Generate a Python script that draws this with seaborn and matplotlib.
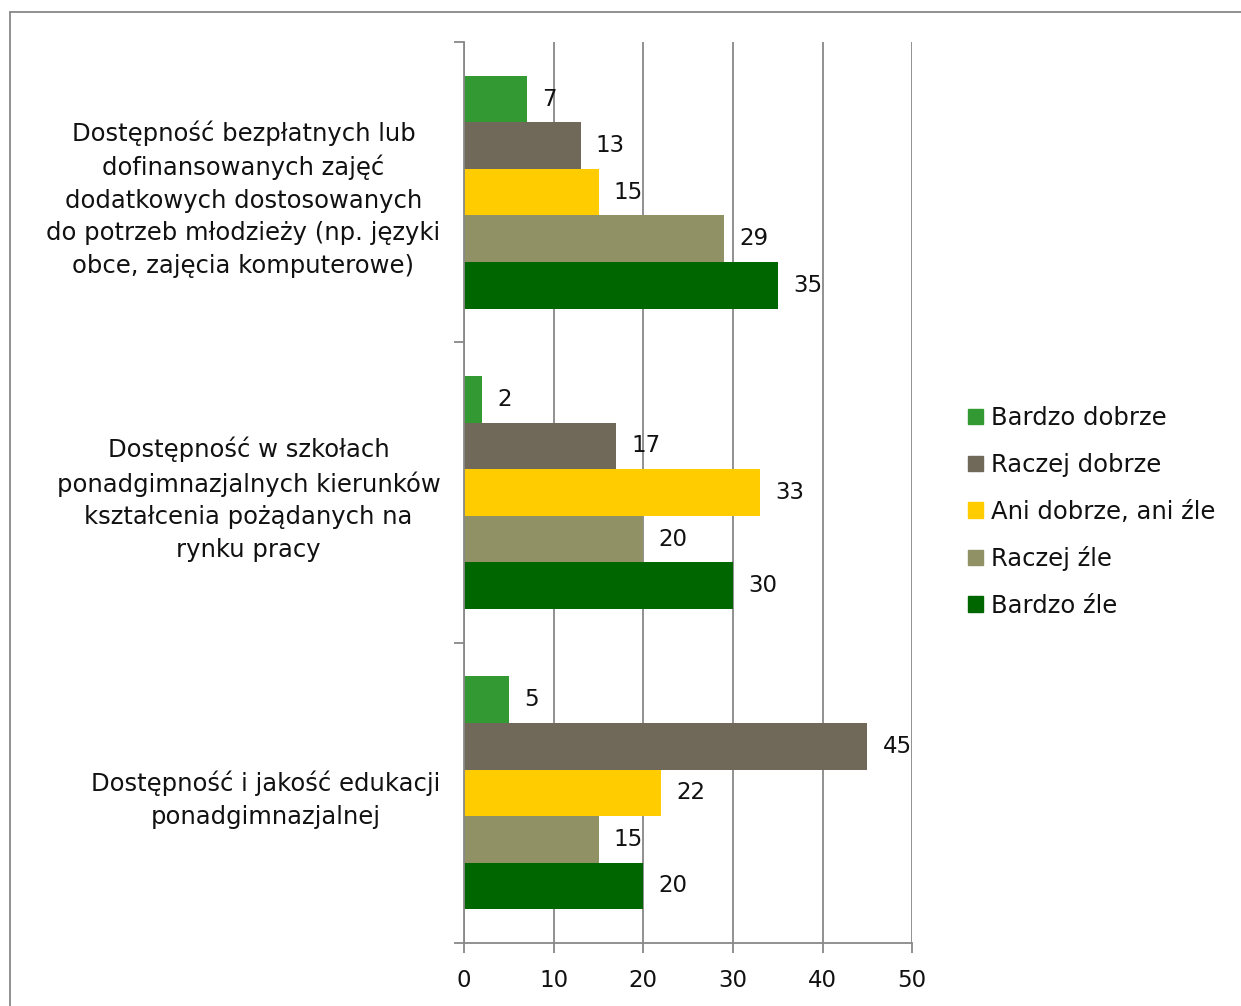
import pandas as pd
import matplotlib.pyplot as plt
import seaborn as sns
from matplotlib.lines import Line2D

# Data
categories = [
    "Dostępność bezpłatnych lub\ndofinansowanych zajęć\ndodatkowych dostosowanych\ndo potrzeb młodzieży (np. języki\nobce, zajęcia komputerowe)",
    "Dostępność w szkołach\nponadgimnazjalnych kierunków\nkształcenia pożądanych na\nrynku pracy",
    "Dostępność i jakość edukacji\nponadgimnazjalnej",
]
answers = ["Bardzo dobrze", "Raczej dobrze", "Ani dobrze, ani źle", "Raczej źle", "Bardzo źle"]
bardzo_dobrze = [7, 2, 5]
raczej_dobrze = [13, 17, 45]
ani_ani = [15, 33, 22]
raczej_zle = [29, 20, 15]
bardzo_zle = [35, 30, 20]
colors = ["#339933", "#706858", "#FFCC00", "#919166", "#006600"]

series = [bardzo_dobrze, raczej_dobrze, ani_ani, raczej_zle, bardzo_zle]
rows = []
for ans, vals in zip(answers, series):
    for cat, v in zip(categories, vals):
        rows.append({"kategoria": cat, "odpowiedz": ans, "wartosc": v})
df = pd.DataFrame(rows)

sns.set_style("white")
plt.rcParams['font.family'] = ['DejaVu Sans']
plt.rcParams['text.color'] = '#111111'
plt.rcParams['xtick.color'] = '#111111'
plt.rcParams['ytick.color'] = '#111111'

fig = plt.figure(figsize=(12.41, 10.06), dpi=100)
ax = fig.add_axes([0.374, 0.0626, 0.361, 0.8956])

sns.barplot(data=df, y="kategoria", x="wartosc", hue="odpowiedz",
            order=categories, hue_order=answers, palette=colors,
            orient="h", width=0.775, linewidth=0, saturation=1, ax=ax)

for cont in ax.containers:
    ax.bar_label(cont, padding=11, fontsize=16.5, color="#111111")

ax.set_xlim(0, 50)
ax.set_ylim(2.5, -0.5)
ax.set_xticks([0, 10, 20, 30, 40, 50])
ax.set_xlabel("")
ax.set_ylabel("")
ax.set_yticks([0, 1, 2])
ax.set_yticklabels(categories, multialignment="center", fontsize=17.5, linespacing=1.45)
ax.set_yticks([-0.5, 0.5, 1.5, 2.5], minor=True)
ax.tick_params(axis="y", which="major", length=0, pad=17)
ax.tick_params(axis="y", which="minor", length=7, width=1.3, color="#888888", left=True)
ax.tick_params(axis="x", length=7, width=1.3, color="#888888", bottom=True, pad=12, labelsize=16.5)
ax.grid(axis="x", color="#888888", linewidth=1.3)
ax.grid(axis="y", visible=False)
ax.set_axisbelow(True)
for side in ["top", "right"]:
    ax.spines[side].set_visible(False)
for side in ["left", "bottom"]:
    ax.spines[side].set_color("#888888")
    ax.spines[side].set_linewidth(1.3)

ax.get_legend().remove()
handles = [plt.Rectangle((0, 0), 1, 1, color=c) for c in colors]
fig.legend(handles, answers, loc="center left", bbox_to_anchor=(0.780, 0.491),
           frameon=False, handlelength=0.6, handleheight=0.6, handletextpad=0.35,
           labelspacing=0.93, fontsize=17.5, borderaxespad=0, borderpad=0)

# outer chart border
fig.add_artist(Line2D([0.008, 0.008], [0, 0.988], color="#888888", linewidth=1.3))
fig.add_artist(Line2D([0.008, 1], [0.988, 0.988], color="#888888", linewidth=1.3))

plt.savefig("out.png", dpi=100)
